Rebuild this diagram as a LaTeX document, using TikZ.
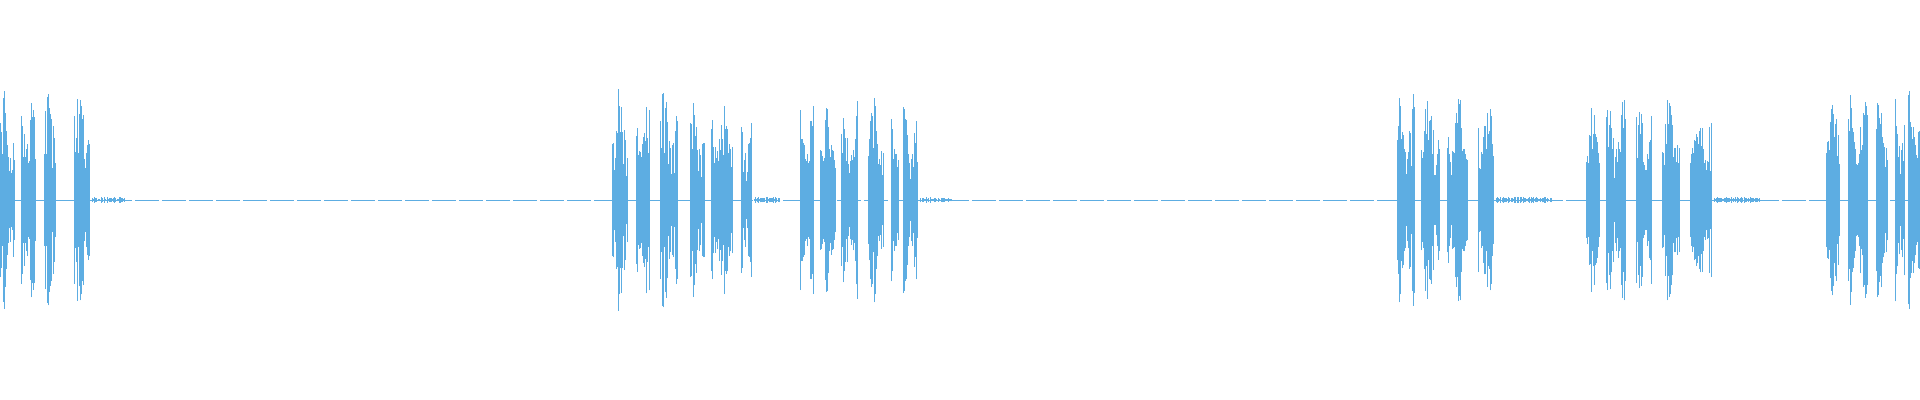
\documentclass[tikz,border=0pt]{standalone}
\usepackage{tikz}
\definecolor{wave}{RGB}{93,173,226}
\tikzset{trace/.style={draw=wave,line width=0.45pt}}
\newcommand\burst[3]{%
  \foreach \x in {#1,#1.6,...,#2} {
    \pgfmathsetmacro\amp{#3*(0.35+0.65*rnd)*(0.75+0.25*sin(mod(\x,15)*24))}
    \draw[trace] (\x,200-\amp) -- (\x,200+\amp);
  }}
\newcommand\blips[2]{%
  \foreach \x in {#1,#1.6,...,#2} {
    \pgfmathsetmacro\amp{3*rnd}
    \draw[trace] (\x,200-\amp) -- (\x,200+\amp);
  }}
\begin{document}
\begin{tikzpicture}[x=0.5pt,y=0.5pt]
\useasboundingbox (0,0) rectangle (1920,400);
\pgfmathsetseed{7}
% idle line
\draw[trace,line width=0.3pt,dash pattern=on 12 off 1.5] (0,200) -- (1920,200);
% first group
\burst{0}{15}{112}
\burst{21}{36}{110}
\burst{44}{56}{112}
\burst{74}{90}{122}
\blips{92}{125}
% second group
\burst{612}{628}{122}
\burst{636}{650}{112}
\burst{660}{678}{110}
\burst{690}{705}{106}
\burst{711}{733}{106}
\burst{741}{752}{96}
\blips{754}{780}
% third group
\burst{800}{814}{100}
\burst{820}{836}{110}
\burst{841}{858}{110}
\burst{868}{884}{105}
\burst{891}{899}{100}
\burst{903}{918}{100}
\blips{920}{952}
% fourth group
\burst{1397}{1415}{106}
\burst{1421}{1440}{110}
\burst{1447}{1468}{110}
\burst{1478}{1494}{118}
\blips{1496}{1552}
% fifth group
\burst{1586}{1600}{104}
\burst{1606}{1626}{104}
\burst{1636}{1652}{104}
\burst{1662}{1680}{108}
\burst{1690}{1712}{104}
\blips{1714}{1760}
% sixth group
\burst{1826}{1840}{110}
\burst{1848}{1868}{112}
\burst{1876}{1888}{104}
\burst{1895}{1905}{116}
\burst{1908}{1920}{122}
\end{tikzpicture}
\end{document}
